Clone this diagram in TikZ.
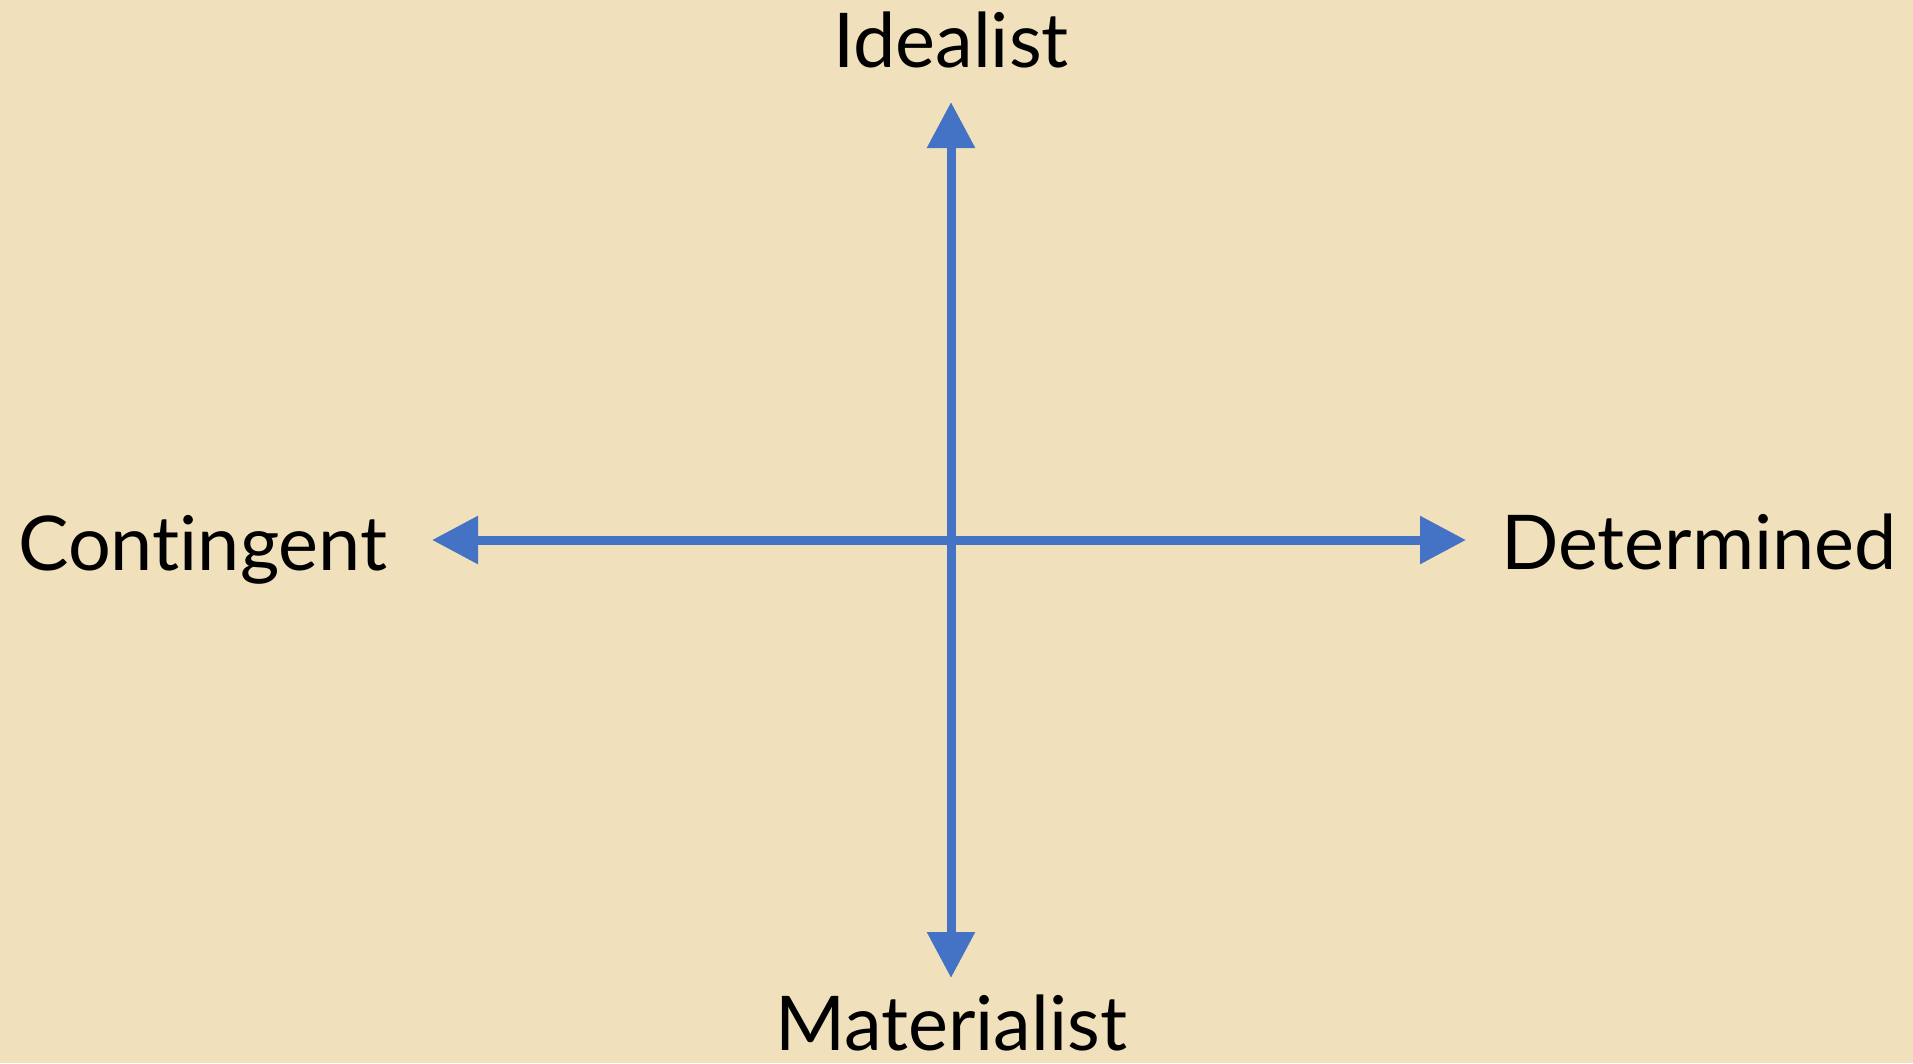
\documentclass[tikz,border=0pt]{standalone}
\usepackage{fontspec}
\setmainfont{Lato}[Ligatures=NoCommon]
\usepackage{tikz}
\usetikzlibrary{arrows.meta}
\usepackage{xcolor}
\definecolor{parch}{RGB}{240,225,188}
\definecolor{axisblue}{RGB}{68,114,196}

\begin{document}
\begin{tikzpicture}[x=0.2mm,y=-0.2mm,>={Triangle[length=9.2mm,width=9.2mm]},
  axis/.style={draw=axisblue,line width=1.8mm,<->},
  pole/.style={font=\fontsize{43}{50}\selectfont,inner sep=0pt}]
\fill[parch] (0,0) rectangle (1913,1063);
\coordinate (o) at (951,540);
\coordinate (up) at (951,102);
\coordinate (down) at (951,978);
\coordinate (left) at (432,540);
\coordinate (right) at (1466,540);
\node[pole,anchor=base] (ideal) at (951,67) {Idealist};
\node[pole,anchor=base] (mat) at (951,1050) {Materialist};
\node[pole,anchor=base west] (cont) at (18,570) {Contingent};
\node[pole,anchor=base east] (det) at (1897,569) {Determined};
\draw[axis] (left) -- (right);
\draw[axis] (down) -- (up);
\end{tikzpicture}
\end{document}
